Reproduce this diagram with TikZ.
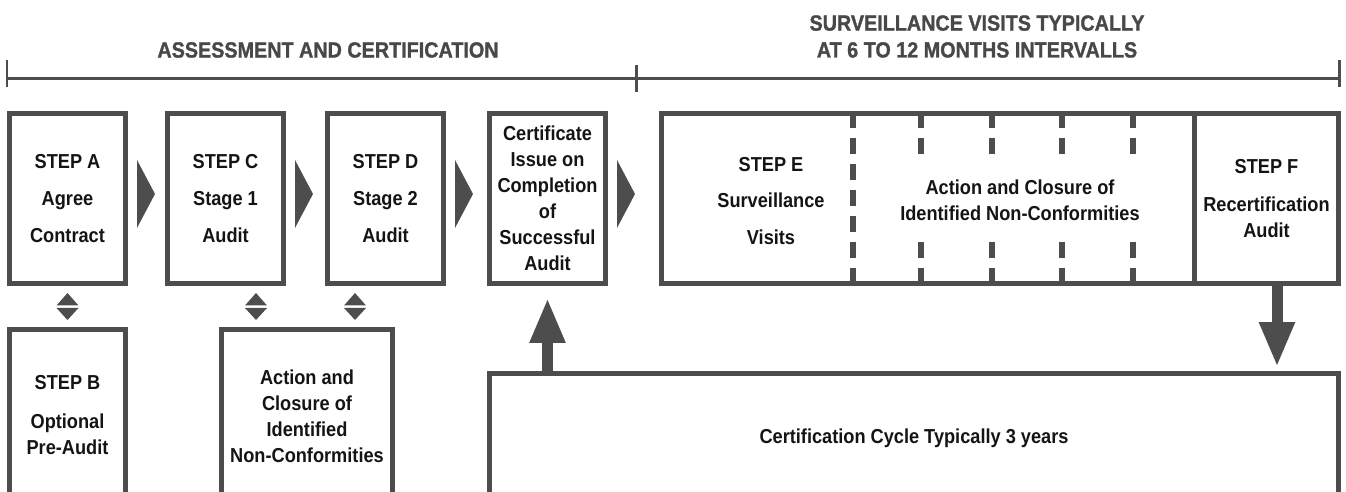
\documentclass[tikz,border=0pt]{standalone}
\usepackage{fontspec}
\setmainfont{Liberation Sans}[FakeStretch=0.9]
\usetikzlibrary{arrows.meta,calc}
\definecolor{boxgray}{RGB}{77,77,77}
\definecolor{headgray}{RGB}{72,72,72}
\tikzstyle{every node}=[font=\bfseries\fontsize{11.5}{14.75}\selectfont,align=center,text=black!92]
\tikzstyle{stepbox}=[draw=boxgray,line width=0.1cm,rectangle,minimum width=2.32cm,minimum height=3.4cm,inner sep=0pt]
\tikzstyle{headtext}=[text=headgray,font=\bfseries\fontsize{12.5}{15.3}\selectfont\addfontfeature{FakeBold=1.2}]
\tikzstyle{bigarrow}=[draw=boxgray,line width=0.22cm,-{Triangle[width=0.66cm,length=0.9cm]}]

\begin{document}
\begin{tikzpicture}[x=0.02cm,y=-0.02cm]
  \clip (0,0) rectangle (1346,492);
  % header scale
  \draw[boxgray,line width=0.06cm] (7,79)--(1339,79)
  (7,60)--(7,87)
  (636,65)--(636,92)
  (1339,60)--(1339,87);
  \node[headtext] (hdrA) at (328,50) {ASSESSMENT AND CERTIFICATION};
  \node[headtext] (hdrB) at (977,36.5) {SURVEILLANCE VISITS TYPICALLY\\AT 6 TO 12 MONTHS INTERVALLS};
  % top row
  \node[stepbox] (stepA) at (67.5,198.5) {STEP A\\[6.25pt]Agree\\[6.25pt]Contract};
  \node[stepbox] (stepC) at (225.5,198.5) {STEP C\\[6.25pt]Stage 1\\[6.25pt]Audit};
  \node[stepbox] (stepD) at (385.5,198.5) {STEP D\\[6.25pt]Stage 2\\[6.25pt]Audit};
  \node[stepbox] (cert) at (547.5,198.5) {Certificate\\Issue on\\Completion\\of\\Successful\\Audit};
  \foreach \x in {137,295,455,617}
    \fill[boxgray] (\x,160)--(\x+18,194)--(\x,228)--cycle;
  % surveillance block
  \node[stepbox,minimum width=10.66cm] (surv) at (928,198.5) {};
  \foreach \x in {853,921,992,1062,1133}
    \draw[boxgray,line width=0.12cm,dash pattern=on 0.32cm off 0.2cm,dash phase=0.08cm] (\x,116)--(\x,281);
  \node (survTxt) at (771,201) {STEP E\\[6.25pt]Surveillance\\[6.25pt]Visits};
  \node[fill=white,inner xsep=0.1cm,minimum height=1.7cm] (ncTxt) at (1020,200) {Action and Closure of\\Identified Non-Conformities};
  \node[stepbox,minimum width=2.88cm] (stepF) at (1266.5,198.5) {STEP F\\[7.4pt]Recertification\\Audit};
  % bottom row
  \node[stepbox,minimum height=3.42cm] (stepB) at (67.5,415) {STEP B\\[7.4pt]Optional\\Pre-Audit};
  \node[stepbox,minimum width=3.42cm,minimum height=3.48cm] (actn) at (307,416.5) {Action and\\Closure of\\Identified\\Non-Conformities};
  \node[stepbox,minimum width=16.98cm,minimum height=2.58cm] (cycle) at (914,438) {Certification Cycle Typically 3 years};
  \foreach \x in {67.5,256,355}
    \fill[boxgray] (\x,293)--(\x+11,305.5)--(\x-11,305.5)--cycle
    (\x-11,308)--(\x+11,308)--(\x,320)--cycle;
  % cycle arrows
  \coordinate (fdrop) at ([xshift=0.21cm]stepF.south);
  \draw[bigarrow,shorten >=0.24cm] (cycle.north -| cert.south)--(cert.south);
  \draw[bigarrow,shorten >=0.08cm] (fdrop)--(fdrop |- cycle.north);
\end{tikzpicture}
\end{document}
